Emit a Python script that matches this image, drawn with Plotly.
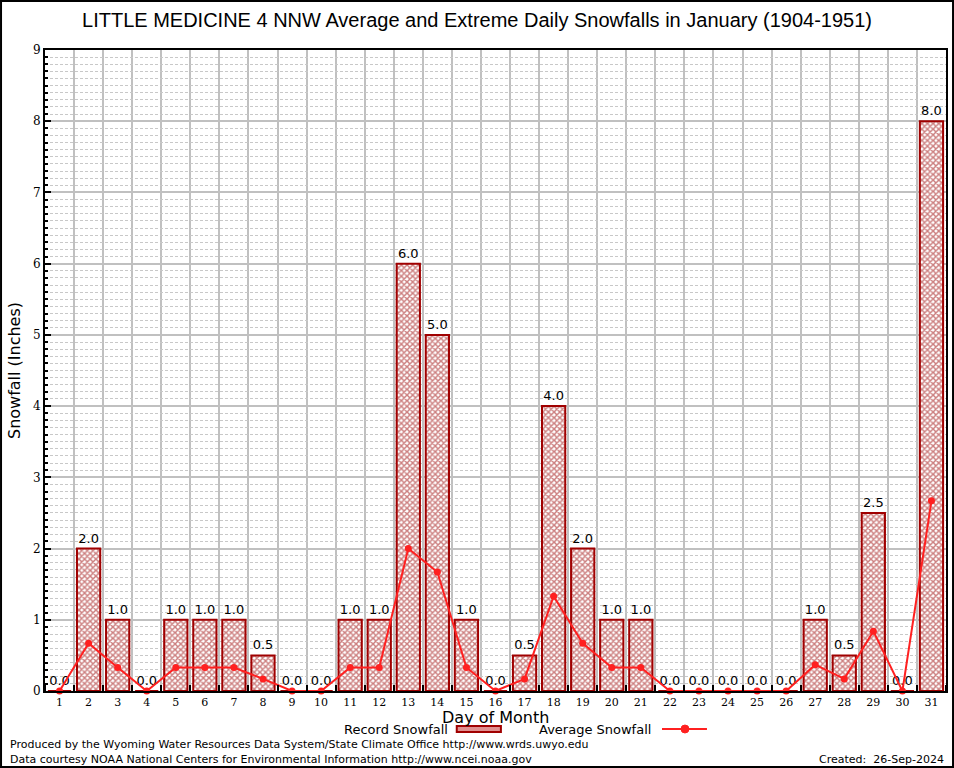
import plotly.graph_objects as go

days = list(range(1, 32))
record = [0.0, 2.0, 1.0, 0.0, 1.0, 1.0, 1.0, 0.5, 0.0, 0.0, 1.0, 1.0, 6.0, 5.0, 1.0, 0.0,
          0.5, 4.0, 2.0, 1.0, 1.0, 0.0, 0.0, 0.0, 0.0, 0.0, 1.0, 0.5, 2.5, 0.0, 8.0]
average = [0.0, 0.67, 0.33, 0.0, 0.33, 0.33, 0.33, 0.17, 0.0, 0.0, 0.33, 0.33, 2.0, 1.67, 0.33, 0.0,
           0.17, 1.33, 0.67, 0.33, 0.33, 0.0, 0.0, 0.0, 0.0, 0.0, 0.37, 0.17, 0.84, 0.0, 2.67]
labels = [f"{v:.1f}" for v in record]

title = "LITTLE MEDICINE 4 NNW Average and Extreme Daily Snowfalls in January (1904-1951)"

fig = go.Figure()
fig.add_trace(go.Bar(
    x=days, y=record, width=0.8, text=labels, textposition="outside",
    textfont=dict(family="DejaVu Sans", size=13, color="black"),
    cliponaxis=False,
    marker=dict(color="white", line=dict(color="#a00000", width=2),
                pattern=dict(shape="x", fgcolor="#990000", bgcolor="white", size=4, solidity=0.6)),
    name="Record Snowfall", showlegend=False,
))
fig.add_trace(go.Scatter(
    x=days, y=average, mode="lines+markers",
    line=dict(color="#ff2020", width=2), marker=dict(color="#ff2020", size=7),
    name="Average Snowfall", showlegend=False, cliponaxis=False,
))

fig.update_layout(
    width=954, height=768,
    margin=dict(l=45, r=8, t=50, b=77, autoexpand=False),
    paper_bgcolor="white", plot_bgcolor="white",
    bargap=0.2,
    title=dict(text=title, x=0.5, xanchor="center", y=0.974, yanchor="middle",
               font=dict(family="Liberation Sans", size=20, color="black")),
    xaxis=dict(range=[0.5, 31.5], tickvals=days, ticktext=[str(d) for d in days],
               automargin=False,
               showgrid=False, ticks="", showline=True, linecolor="black", linewidth=2, mirror=True,
               tickfont=dict(family="DejaVu Serif", size=11, color="black"),
               minor=dict(tick0=0.5, dtick=1, showgrid=True, gridcolor="#c0c0c0", gridwidth=2,
                          ticks="inside", ticklen=6, tickcolor="black", tickwidth=2),
               zeroline=False),
    yaxis=dict(range=[0, 9], dtick=1, showgrid=True, gridcolor="#c0c0c0", gridwidth=2,
               automargin=False,
               ticks="inside", ticklen=6, tickcolor="black", tickwidth=2,
               showline=True, linecolor="black", linewidth=2, mirror=True,
               tickfont=dict(family="DejaVu Serif", size=12, color="black"),
               title=dict(text="Snowfall (Inches)", font=dict(family="DejaVu Sans", size=16, color="black"), standoff=8),
               minor=dict(dtick=0.1, showgrid=True, gridcolor="#c8c8c8", gridwidth=1, griddash="3px,2px",
                          ticks="inside", ticklen=3, tickcolor="black"),
               zeroline=False),
)

# x-axis title
fig.add_annotation(xref="paper", yref="paper", x=0.5, y=-0.0415, xanchor="center", yanchor="middle",
                   text="Day of Month", showarrow=False,
                   font=dict(family="DejaVu Sans", size=16, color="black"))

# legend drawn manually (text before swatch)
fig.add_annotation(xref="paper", yref="paper", x=0.4495, y=-0.0600, xanchor="right", yanchor="middle",
                   text="Record Snowfall", showarrow=False,
                   font=dict(family="DejaVu Sans", size=13, color="black"))
fig.add_shape(type="rect", xref="paper", yref="paper", x0=0.457, x1=0.506, y0=-0.064, y1=-0.0546,
              line=dict(color="#a00000", width=2), fillcolor="#e09090")
fig.add_annotation(xref="paper", yref="paper", x=0.6748, y=-0.0600, xanchor="right", yanchor="middle",
                   text="Average Snowfall", showarrow=False,
                   font=dict(family="DejaVu Sans", size=13, color="black"))
fig.add_shape(type="line", xref="paper", yref="paper", x0=0.6848, x1=0.7347, y0=-0.0593, y1=-0.0593,
              line=dict(color="#ff2020", width=2))
fig.add_shape(type="circle", xref="paper", yref="paper", x0=0.7059, x1=0.7147, y0=-0.0655, y1=-0.0531,
              line=dict(color="#ff2020", width=1), fillcolor="#ff2020")

fig.add_annotation(xref="paper", yref="paper", x=-0.041, y=-0.0842, xanchor="left", yanchor="middle",
                   text="Produced by the Wyoming Water Resources Data System/State Climate Office http://www.wrds.uwyo.edu",
                   showarrow=False, font=dict(family="DejaVu Sans", size=11, color="black"))
fig.add_annotation(xref="paper", yref="paper", x=-0.041, y=-0.1061, xanchor="left", yanchor="middle",
                   text="Data courtesy NOAA National Centers for Environmental Information http://www.ncei.noaa.gov",
                   showarrow=False, font=dict(family="DejaVu Sans", size=11, color="black"))
fig.add_annotation(xref="paper", yref="paper", x=1.0, y=-0.1061, xanchor="right", yanchor="middle",
                   text="Created:  26-Sep-2024",
                   showarrow=False, font=dict(family="DejaVu Sans", size=11, color="black"))

# outer frame
fig.add_shape(type="rect", xref="paper", yref="paper", x0=-0.0488, x1=1.0078, y0=-0.1186, y1=1.0764,
              line=dict(color="black", width=2), fillcolor="rgba(0,0,0,0)", layer="above")

fig.write_html("out.html", config={"displayModeBar": False},
               post_script="document.body.style.margin='0';document.body.style.overflow='hidden';")
